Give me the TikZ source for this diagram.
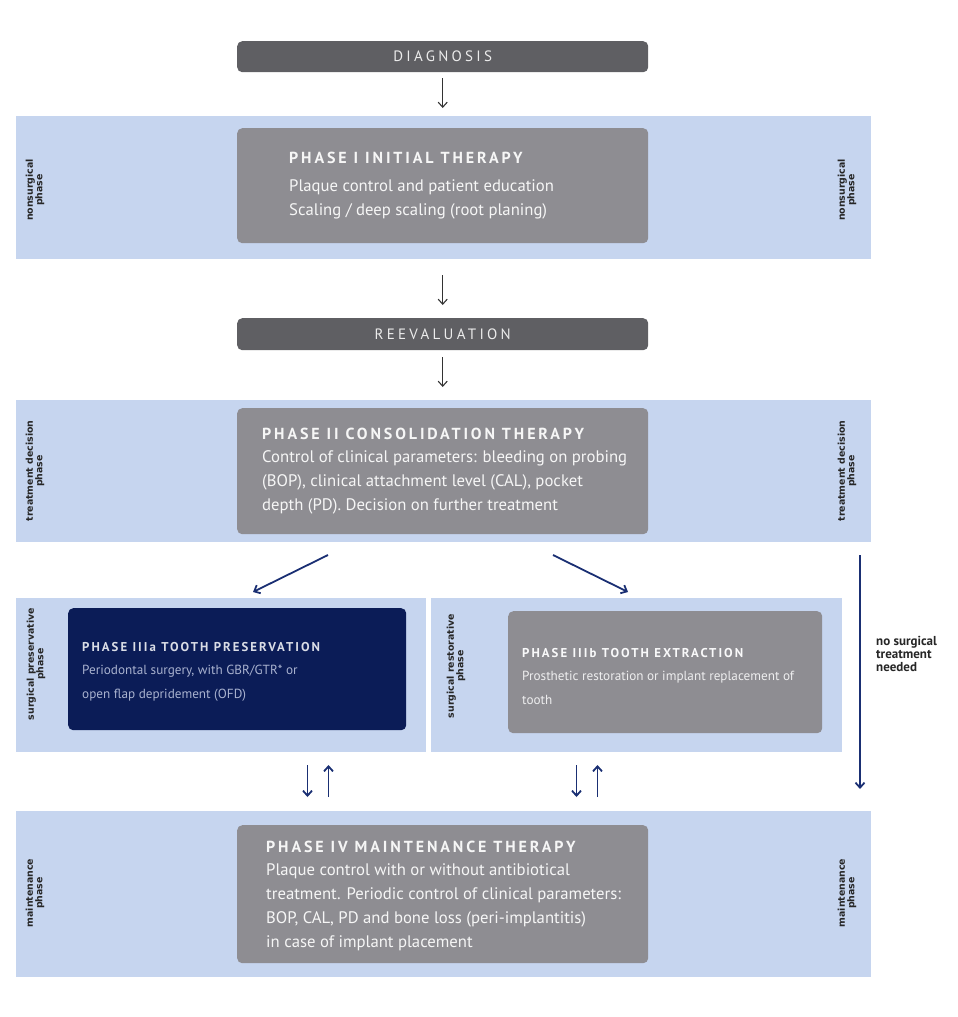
\documentclass[tikz,border=0pt]{standalone}
\usepackage{fontspec}
\setmainfont{PT Sans}
\newfontfamily\headfont[LetterSpace=18]{PT Sans}
\newfontfamily\smallhead[LetterSpace=16]{PT Sans}
\newfontfamily\tagfont[LetterSpace=22]{PT Sans}
\newfontfamily\sidefont{DejaVu Sans}
\usetikzlibrary{positioning,arrows.meta}
\definecolor{bandblue}{HTML}{C6D5EF}
\definecolor{boxgray}{HTML}{8E8D92}
\definecolor{darkgray}{HTML}{5F5F63}
\definecolor{navy}{HTML}{0B1C57}
\definecolor{arrownavy}{HTML}{1A2F73}
\definecolor{paletext}{HTML}{A9B2CF}

\begin{document}
\begin{tikzpicture}[x=1pt, y=-1pt, >={Straight Barb[length=5pt,width=9pt]},
    band/.style={fill=bandblue, anchor=north west, inner sep=0pt},
    darkbox/.style={fill=darkgray, rounded corners=5pt, anchor=north west,
      inner sep=0pt, text=white!88!darkgray,
      font=\tagfont\fontsize{15}{15}\selectfont},
    graybox/.style={fill=boxgray, rounded corners=5pt, anchor=north west,
      inner sep=0pt},
    navybox/.style={graybox, fill=navy},
    boxtext/.style={anchor=west, align=left, inner sep=0pt,
      text=white!92!boxgray, font=\fontsize{16.7}{24}\selectfont},
    smalltext/.style={boxtext, font=\fontsize{13.2}{24}\selectfont},
    sidetag/.style={rotate=90, align=center, inner sep=0pt, text=black!85,
      font=\sidefont\bfseries\fontsize{9.4}{9.4}\selectfont},
    flow/.style={->, black!80, line width=1.1pt},
    navyflow/.style={->, arrownavy, line width=1.8pt} ]

  \useasboundingbox (0,0) rectangle (958,1017);

  \foreach \n/\x/\y/\w/\h in {b1/16/116/855/143, b2/16/400/855/142,
      b3a/16/598/410/154, b3b/431/598/411/154, b4/16/811/855/166}
    \node[band, minimum width=\w pt, minimum height=\h pt] (\n) at (\x,\y) {};

  \node[darkbox, minimum width=411pt, minimum height=31pt] (diag) at (237,41) {DIAGNOSIS};
  \node[darkbox, minimum width=411pt, minimum height=32pt] (reev) at (237,318) {REEVALUATION};
  \foreach \n/\x/\y/\w/\h in {ph1/237/128/411/115, ph2/237/408/411/126,
      ph3b/508/611/314/122, ph4/237/825/411/138}
    \node[graybox, minimum width=\w pt, minimum height=\h pt] (\n) at (\x,\y) {};
  \node[navybox, minimum width=338pt, minimum height=122pt] (ph3a) at (68,608) {};

  \node[boxtext] (t1) at ([xshift=52pt]ph1.west)
    {{\headfont\bfseries\fontsize{16}{24}\selectfont PHASE I INITIAL THERAPY}\\[4pt]
     Plaque control and patient education\\
     Scaling / deep scaling (root planing)};
  \node[boxtext] (t2) at ([xshift=25pt]ph2.west)
    {{\headfont\bfseries\fontsize{16}{24}\selectfont PHASE II CONSOLIDATION THERAPY}\\[-1pt]
     Control of clinical parameters: bleeding on probing\\
     (BOP), clinical attachment level (CAL), pocket\\
     depth (PD). Decision on further treatment};
  \node[smalltext, text=paletext] (t3a) at ([xshift=14pt,yshift=-3pt]ph3a.west)
    {{\smallhead\bfseries\fontsize{12.8}{24}\selectfont\color{white!85!navy} PHASE IIIa TOOTH PRESERVATION}\\[-1pt]
     Periodontal surgery, with GBR/GTR* or\\
     open flap depridement (OFD)};
  \node[smalltext, text=white!85!boxgray] (t3b) at ([xshift=14pt,yshift=-4pt]ph3b.west)
    {{\smallhead\bfseries\fontsize{12.8}{24}\selectfont\color{white!95!boxgray} PHASE IIIb TOOTH EXTRACTION}\\[-1pt]
     Prosthetic restoration or implant replacement of\\
     tooth};
  \node[boxtext] (t4) at ([xshift=29pt,yshift=-2pt]ph4.west)
    {{\headfont\bfseries\fontsize{16}{24}\selectfont PHASE IV MAINTENANCE THERAPY}\\[-1pt]
     Plaque control with or without antibiotical\\
     treatment. Periodic control of clinical parameters:\\
     BOP, CAL, PD and bone loss (peri-implantitis)\\
     in case of implant placement};

  \foreach \x/\y/\t in {35/190/nonsurgical, 847/190/nonsurgical,
      35/471/treatment decision, 847/471/treatment decision,
      36/664/surgical preservative, 456/666/surgical restorative,
      35/893/maintenance, 847/893/maintenance}
    \node[sidetag] at (\x,\y) {\t\\phase};

  \node[anchor=north west, align=left, inner sep=0pt, text=black!85,
    font=\bfseries\fontsize{13}{13}\selectfont] (skiptag) at (876,636)
    {no surgical\\treatment\\needed};

  \draw[flow, shorten <=6pt, shorten >=8pt] (diag.south) -- (diag.south |- b1.north);
  \draw[flow, shorten <=16pt, shorten >=13pt] (reev.north |- b1.south) -- (reev.north);
  \draw[flow, shorten <=7pt, shorten >=13pt] (reev.south) -- (reev.south |- b2.north);

  \coordinate (splitL) at (328,555);
  \coordinate (splitR) at (553,555);
  \coordinate (intoA) at (253,592);
  \coordinate (intoB) at (628,592);
  \coordinate (skip) at (860,555);
  \coordinate (skipend) at (860,789);
  \draw[navyflow] (splitL) -- (intoA);
  \draw[navyflow] (splitR) -- (intoB);
  \draw[navyflow] (skip) -- (skipend);

  \foreach \i/\x in {a/318, b/587} {
    \coordinate (top\i) at (\x,765);
    \coordinate (bot\i) at (\x,797);
    \draw[navyflow] ([xshift=-10.5pt]top\i) -- ([xshift=-10.5pt]bot\i);
    \draw[navyflow] ([xshift=10.5pt]bot\i) -- ([xshift=10.5pt]top\i);
  }
\end{tikzpicture}
\end{document}
